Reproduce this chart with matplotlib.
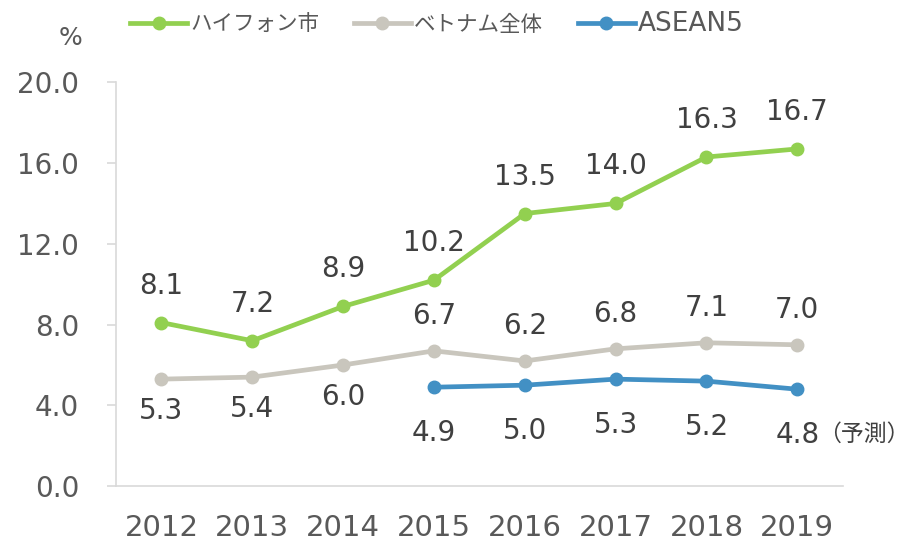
import matplotlib
import matplotlib.pyplot as plt

matplotlib.use('agg')
plt.rcParams['font.family'] = ['DejaVu Sans', 'Noto Sans CJK JP']

years = ['2012', '2013', '2014', '2015', '2016', '2017', '2018', '2019']
haiphong = [8.1, 7.2, 8.9, 10.2, 13.5, 14.0, 16.3, 16.7]
vietnam = [5.3, 5.4, 6.0, 6.7, 6.2, 6.8, 7.1, 7.0]
asean5_years = ['2015', '2016', '2017', '2018', '2019']
asean5 = [4.9, 5.0, 5.3, 5.2, 4.8]

green = '#92D050'
grey = '#C9C6BD'
blue = '#4290C4'
text_col = '#404040'

fig = plt.figure(figsize=(9.14, 5.45), dpi=100)
ax = fig.add_axes([0.127, 0.108, 0.795, 0.741])

x_all = list(range(len(years)))
x_asean = [years.index(y) for y in asean5_years]

ax.plot(x_all, haiphong, color=green, lw=3.4, marker='o', ms=9, label='ハイフォン市', zorder=3)
ax.plot(x_all, vietnam, color=grey, lw=3.4, marker='o', ms=9, label='ベトナム全体', zorder=3)
ax.plot(x_asean, asean5, color=blue, lw=3.4, marker='o', ms=9, label='ASEAN5', zorder=3)

fs = 20
for x, v in zip(x_all, haiphong):
    ax.annotate('%.1f' % v, (x, v), xytext=(0, 37), textcoords='offset pixels',
                ha='center', va='center', fontsize=fs, color=text_col)
for i, (x, v) in enumerate(zip(x_all, vietnam)):
    dy = -32 if i < 3 else 35
    ax.annotate('%.1f' % v, (x, v), xytext=(0, dy), textcoords='offset pixels',
                ha='center', va='center', fontsize=fs, color=text_col)
for x, v in zip(x_asean, asean5):
    ax.annotate('%.1f' % v, (x, v), xytext=(0, -46), textcoords='offset pixels',
                ha='center', va='center', fontsize=fs, color=text_col)
ax.annotate('（予測）', (x_asean[-1], asean5[-1]), xytext=(21, -45), textcoords='offset pixels',
            ha='left', va='center', fontsize=16.5, color=text_col,
            family=['Noto Sans CJK JP', 'DejaVu Sans'])

ax.set_xlim(-0.5, len(years) - 0.5)
ax.set_ylim(0, 20)
ax.set_yticks([0, 4, 8, 12, 16, 20])
ax.set_yticklabels(['%.1f' % t for t in [0, 4, 8, 12, 16, 20]])
ax.set_xticks(x_all)
ax.set_xticklabels(years)

for side in ['top', 'right']:
    ax.spines[side].set_visible(False)
for side in ['left', 'bottom']:
    ax.spines[side].set_color('#D9D9D9')
    ax.spines[side].set_linewidth(1.2)
ax.tick_params(axis='y', colors='#D9D9D9', labelcolor='#595959', labelsize=20, length=6.5, width=1.2, pad=20)
ax.tick_params(axis='x', length=0, labelcolor='#595959', labelsize=21, pad=20)

fig.text(0.0766, 0.93, '%', fontsize=18, color='#595959', ha='center', va='center')

leg = fig.legend(loc='center', bbox_to_anchor=(0.478, 0.956), ncol=3, frameon=False,
                 prop={'family': ['Noto Sans CJK JP', 'DejaVu Sans'], 'size': 15.5},
                 handlelength=2.65, handletextpad=0.15, columnspacing=1.6, labelcolor='#595959')
leg.get_texts()[2].set_fontsize(19)
leg.get_texts()[2].set_family('DejaVu Sans')

fig.savefig('out.png', dpi=100)
plt.close()
